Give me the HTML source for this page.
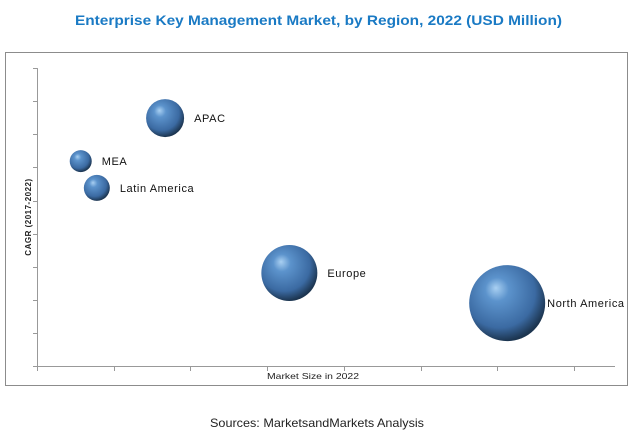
<!DOCTYPE html>
<html><head><meta charset="utf-8"><style>
body{margin:0;width:636px;height:434px;background:#fff;font-family:"Liberation Sans",sans-serif;overflow:hidden}
</style></head><body>
<svg width="636" height="434">
<defs>
<radialGradient id="g" cx="0.42" cy="0.38" r="0.62" fx="0.35" fy="0.3">
<stop offset="0" stop-color="#a9d0f2"/><stop offset="0.25" stop-color="#5c93cc"/>
<stop offset="0.75" stop-color="#3b6aa2"/><stop offset="1" stop-color="#1c3550"/></radialGradient>
</defs>
<text x="75" y="25" textLength="487" lengthAdjust="spacingAndGlyphs" font-size="14" font-weight="bold" fill="#1a7ac4">Enterprise Key Management Market, by Region, 2022 (USD Million)</text>
<rect x="5.5" y="52.5" width="622" height="333" fill="none" stroke="#8c8c8c"/>
<g id="axes" stroke="#999" stroke-width="1"></g>
<g id="bubbles"></g>
<text transform="translate(31,217) rotate(-90)" text-anchor="middle" font-size="8" font-weight="bold" fill="#222" letter-spacing="0.5">CAGR (2017-2022)</text>
<text x="267" y="379" textLength="92" lengthAdjust="spacingAndGlyphs" font-size="8.5" fill="#222">Market Size in 2022</text>
<text x="210" y="427" textLength="214" lengthAdjust="spacingAndGlyphs" font-size="12" fill="#222">Sources: MarketsandMarkets Analysis</text>
</svg>
<script>
const regions=["APAC","MEA","Latin America","Europe","North America"];
const marketSize=[1.67,0.57,0.78,3.29,6.13];
const cagr=[7.49,6.19,5.38,2.81,1.90];
const bubbleRadius=[19,11,13,28,38];
const xTicks=[0,1,2,3,4,5,6,7];
const yTicks=[0,1,2,3,4,5,6,7,8,9];
const ns="http://www.w3.org/2000/svg";
const X=v=>37+v*76.7, Y=v=>366-v*33.1;
const ax=document.getElementById('axes'), bg=document.getElementById('bubbles');
function mk(p,t,a){const e=document.createElementNS(ns,t);for(const k in a)e.setAttribute(k,a[k]);p.appendChild(e);return e;}
let l=mk(ax,'line',{x1:37.5,y1:Y(9),x2:37.5,y2:366.5});


l=mk(ax,'line',{x1:37,y1:366.5,x2:615,y2:366.5});


yTicks.forEach(t=>{const e=mk(ax,'line',{x1:33,x2:37.5,y1:Math.round(Y(t))+.5,y2:Math.round(Y(t))+.5});

});
xTicks.forEach(t=>{const e=mk(ax,'line',{x1:Math.round(X(t))+.5,x2:Math.round(X(t))+.5,y1:366,y2:371});

});
regions.forEach((r,i)=>{
const c=mk(bg,'circle',{cx:X(marketSize[i]),cy:Y(cagr[i]),r:bubbleRadius[i],fill:'url(#g)'});


const t=mk(bg,'text',{x:X(marketSize[i])+bubbleRadius[i]+(i==4?2:10),y:Y(cagr[i])+4,'font-size':11,'letter-spacing':0.6,fill:'#111'});
t.textContent=r;


});
</script>
</body></html>
